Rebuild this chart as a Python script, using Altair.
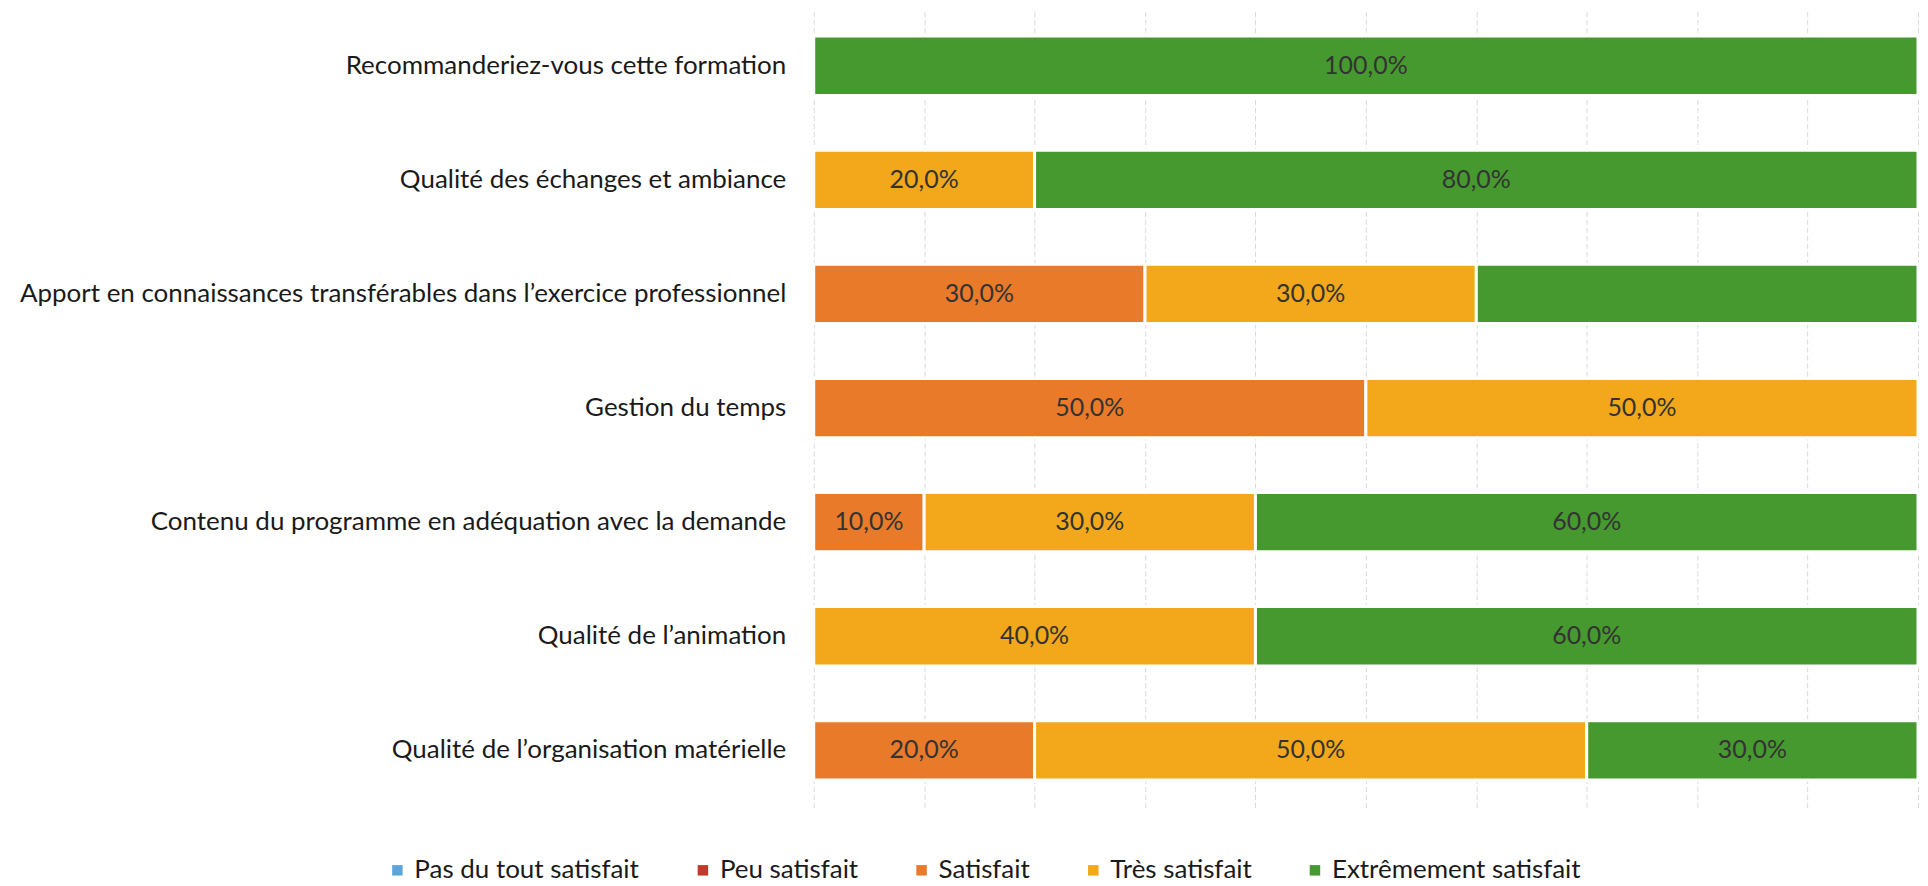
import altair as alt
import pandas as pd

questions = [
    "Recommanderiez-vous cette formation",
    "Qualité des échanges et ambiance",
    "Apport en connaissances transférables dans l’exercice professionnel",
    "Gestion du temps",
    "Contenu du programme en adéquation avec la demande",
    "Qualité de l’animation",
    "Qualité de l’organisation matérielle",
]
categories = ["Pas du tout satisfait", "Peu satisfait", "Satisfait", "Très satisfait", "Extrêmement satisfait"]
colors = ["#5DA5D9", "#C0392B", "#E87A2A", "#F2A81A", "#46992F"]

pas_du_tout = [0, 0, 0, 0, 0, 0, 0]
peu = [0, 0, 0, 0, 0, 0, 0]
satisfait = [0, 0, 30, 50, 10, 0, 20]
tres = [0, 20, 30, 50, 30, 40, 50]
extreme = [100, 80, 40, 0, 60, 60, 30]
series = [pas_du_tout, peu, satisfait, tres, extreme]
# segments whose value label is not printed in the source
hidden_labels = [("Apport en connaissances transférables dans l’exercice professionnel", "Extrêmement satisfait")]

rows = []
for ci, (cat, vals) in enumerate(zip(categories, series)):
    for q, v in zip(questions, vals):
        if v > 0:
            lab = "" if (q, cat) in hidden_labels else f"{v:.1f}%".replace(".", ",")
            rows.append({"question": q, "category": cat, "value": v, "ord": ci, "label": lab})
df = pd.DataFrame(rows)

FONT = "Lato"

base = alt.Chart(df).transform_stack(
    stack="value", groupby=["question"], sort=[alt.SortField("ord")], as_=["v0", "v1"]
).transform_calculate(mid="(datum.v0 + datum.v1) / 2")

y_enc = alt.Y(
    "question:N",
    sort=questions,
    title=None,
    scale=alt.Scale(paddingInner=0.48, paddingOuter=0.24),
    axis=alt.Axis(domain=False, ticks=False, labelFontSize=26, labelColor="#1a1a1a",
                  labelFont=FONT, labelPadding=28, labelLimit=1000),
)

bars = base.mark_bar(stroke="white", strokeWidth=3).encode(
    x=alt.X("v0:Q", scale=alt.Scale(domain=[0, 100], nice=False), title=None,
            axis=alt.Axis(labels=False, ticks=False, domain=False, grid=True,
                          values=list(range(0, 101, 10)), gridColor="#d8d8d8",
                          gridDash=[5, 3], gridWidth=1)),
    x2="v1:Q",
    y=y_enc,
    color=alt.Color("category:N", scale=alt.Scale(domain=categories, range=colors),
                    legend=alt.Legend(title=None, orient="none", direction="horizontal",
                                      legendX=-430, legendY=850,
                                      symbolType="square", symbolSize=110, symbolStrokeWidth=0,
                                      labelFontSize=26, labelFont=FONT, labelColor="#1a1a1a",
                                      columnPadding=50, labelLimit=500)),
)

texts = base.mark_text(fontSize=25, font=FONT, color="#333333").encode(
    x=alt.X("mid:Q"),
    y=alt.Y("question:N", sort=questions),
    text="label:N",
)

chart = (bars + texts).properties(
    width=1106, height=800,
    padding={"top": 0, "left": 10, "right": 0, "bottom": 0},
).configure_view(stroke=None)

chart.save("out.html", embed_options={"renderer": "svg", "actions": False})
